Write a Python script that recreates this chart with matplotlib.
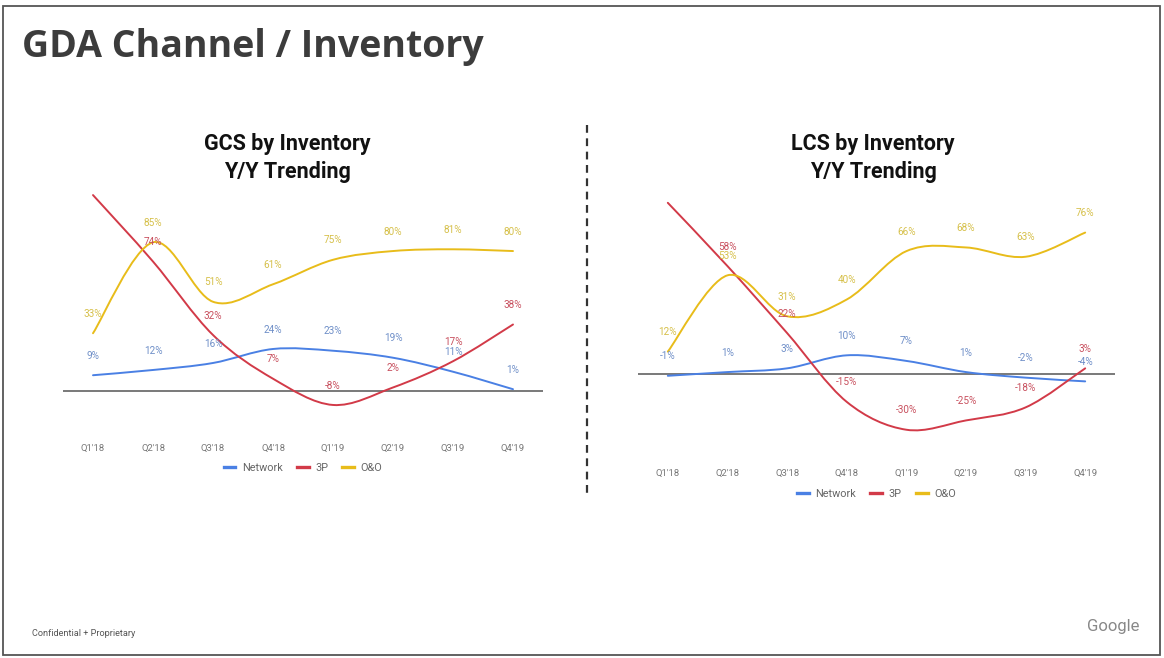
import matplotlib
matplotlib.use("Agg")
import matplotlib.pyplot as plt
from matplotlib.path import Path
from matplotlib.patches import PathPatch, Rectangle
from matplotlib.lines import Line2D

quarters = ["Q1'18", "Q2'18", "Q3'18", "Q4'18", "Q1'19", "Q2'19", "Q3'19", "Q4'19"]
series_names = ["Network", "3P", "O&O"]

# GCS by inventory, Y/Y %
gcs_network = [9, 12, 16, 24, 23, 19, 11, 1]
gcs_3p = [112, 74, 32, 7, -8, 2, 17, 38]
gcs_oo = [33, 85, 51, 61, 75, 80, 81, 80]

# LCS by inventory, Y/Y %
lcs_network = [-1, 1, 3, 10, 7, 1, -2, -4]
lcs_3p = [92, 58, 22, -15, -30, -25, -18, 3]
lcs_oo = [12, 53, 31, 40, 66, 68, 63, 76]

colors = ["#4a80e4", "#d23a48", "#e8bc1a"]
label_colors = ["#6f8fc8", "#c8505e", "#d6c04a"]

plt.rcParams['font.family'] = ['Roboto', 'DejaVu Sans']


def smooth_path(xs, ys):
    # cubic bezier through every point (like a "smooth" sheet line)
    pts = list(zip(xs, ys))
    n = len(pts)
    verts = [pts[0]]
    codes = [Path.MOVETO]
    for i in range(n - 1):
        p0 = pts[max(i - 1, 0)]
        p1 = pts[i]
        p2 = pts[i + 1]
        p3 = pts[min(i + 2, n - 1)]
        c1 = (p1[0] + (p2[0] - p0[0]) / 6, p1[1] + (p2[1] - p0[1]) / 6)
        c2 = (p2[0] - (p3[0] - p1[0]) / 6, p2[1] - (p3[1] - p1[1]) / 6)
        verts += [c1, c2, p2]
        codes += [Path.CURVE4] * 3
    return Path(verts, codes)


def draw_chart(ax, data, ylim, title, title_x, title_y, legend_y, tick_pad):
    x = list(range(len(quarters)))
    for vals, c, lc in zip(data, colors, label_colors):
        ax.add_patch(PathPatch(smooth_path(x, vals), fill=False, edgecolor=c, lw=1.4,
                               capstyle='round', joinstyle='round', zorder=3))
        for xi, v in zip(x, vals):
            # labels that would sit above the plot area are cut off in the slide
            if v > ylim[1] - 15:
                continue
            ax.annotate(f"{v}%", (xi, v), xytext=(0, 14), textcoords='offset points',
                        ha='center', va='center', fontsize=7.2, color=lc, zorder=4)
    ax.axhline(0, color='#555555', lw=1.1, zorder=2)
    ax.set_xlim(-0.5, len(quarters) - 0.5)
    ax.set_ylim(*ylim)
    ax.set_xticks(x)
    ax.set_xticklabels(quarters, fontsize=6.8, color='#777777')
    ax.tick_params(axis='x', length=0, pad=tick_pad)
    ax.set_yticks([])
    for s in ax.spines.values():
        s.set_visible(False)
    ax.patch.set_alpha(0)

    fig.text(title_x, title_y, title, ha='center', va='center', fontsize=15.5,
             fontweight='bold', color='#111111', linespacing=1.35)

    handles = [Line2D([], [], color=c, lw=2.4) for c in colors]
    leg = ax.legend(handles, series_names, loc='center', ncol=3, frameon=False,
                    bbox_to_anchor=(0.5, legend_y), fontsize=7.8, handlelength=1.1,
                    handletextpad=0.6, columnspacing=1.3)
    for t in leg.get_texts():
        t.set_color('#666666')


W, H = 1164, 658
fig = plt.figure(figsize=(W / 100, H / 100), dpi=100)
fig.patch.set_facecolor('white')

# slide frame
fig.add_artist(Rectangle((3 / W, 3 / H), 1157 / W, 649 / H, transform=fig.transFigure,
                         fill=False, edgecolor='#555555', lw=1.3))

fig.text(22 / W, 1 - 47 / H, "GDA Channel / Inventory", fontsize=27, fontweight='bold',
         family=['Open Sans', 'DejaVu Sans'], color='#3c3c3c', va='center', ha='left')

ax1 = fig.add_axes([63 / W, 1 - 427 / H, 480 / W, 237 / H])
draw_chart(ax1, [gcs_network, gcs_3p, gcs_oo], (-20.6, 114.9),
           "GCS by Inventory\nY/Y Trending", 287 / W, 1 - 158 / H, -0.173, 12)

ax2 = fig.add_axes([638 / W, 1 - 450 / H, 477 / W, 255 / H])
draw_chart(ax2, [lcs_network, lcs_3p, lcs_oo], (-40.9, 96.2),
           "LCS by Inventory\nY/Y Trending", 873 / W, 1 - 158 / H, -0.173, 14)

# dashed divider between the two charts
fig.add_artist(Line2D([587 / W, 587 / W], [1 - 125 / H, 1 - 495 / H], transform=fig.transFigure,
                      color='#333333', lw=1.6, ls=(0, (3.5, 2.5))))

fig.text(32 / W, 1 - 633 / H, "Confidential + Proprietary", fontsize=6.6, color='#555555',
         va='center', ha='left')
fig.text(1140 / W, 1 - 626 / H, "Google", fontsize=12, color='#888888', va='center', ha='right')

fig.savefig("out.png", dpi=100)
